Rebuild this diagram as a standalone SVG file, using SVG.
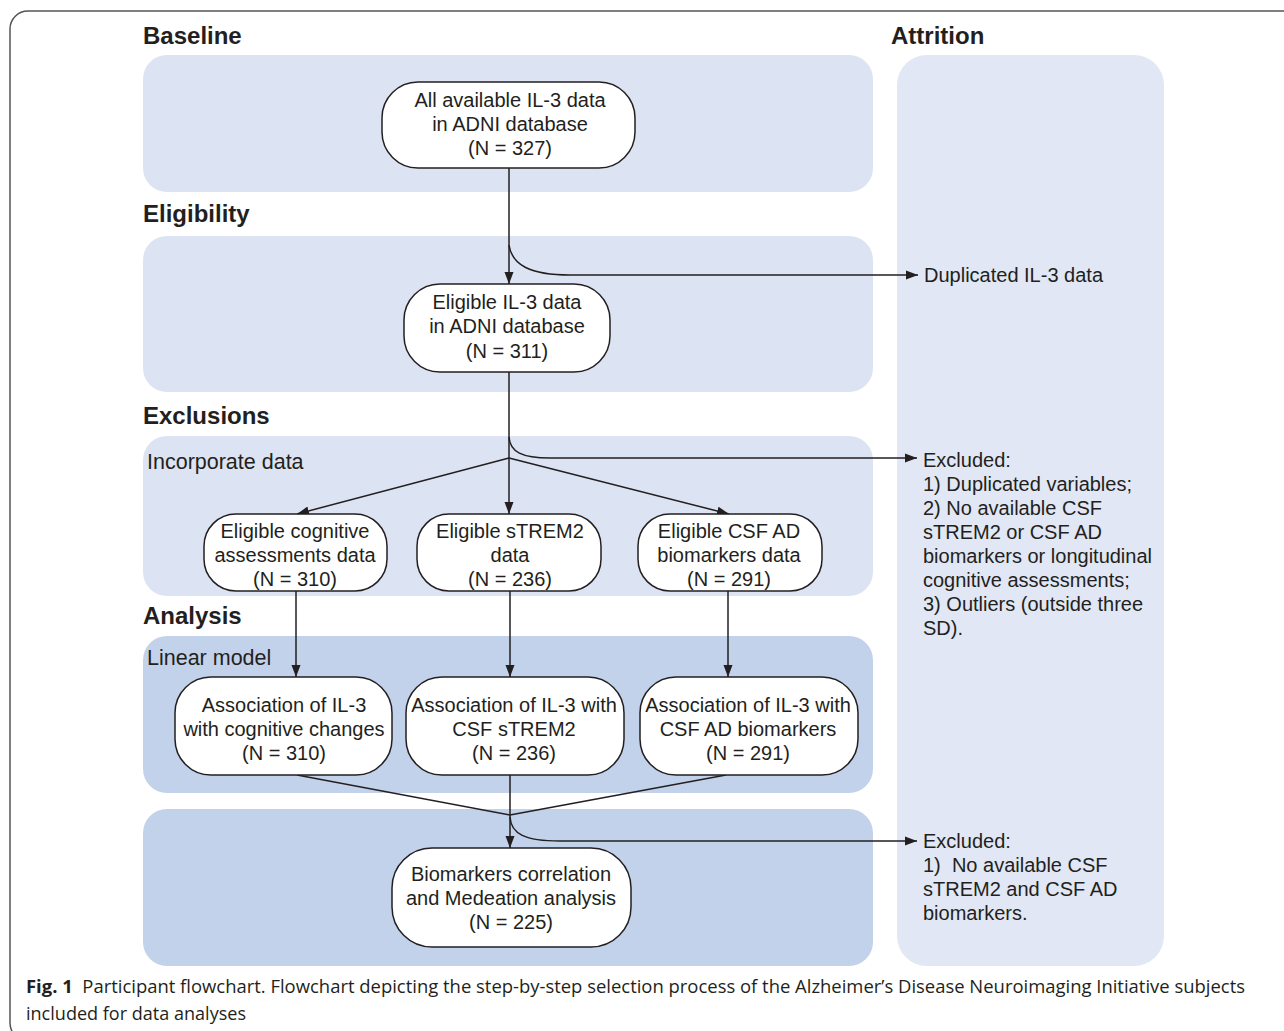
<svg xmlns="http://www.w3.org/2000/svg" width="1284" height="1031" viewBox="0 0 1284 1031">
<style>
.t{font-family:"Liberation Sans",Arial,sans-serif;fill:#231f20}
.n{font-size:20px;text-anchor:middle}
.h{font-size:24px;font-weight:bold}
.s{font-size:21.5px}
.a{font-size:20px}
.box{fill:#fff;stroke:#231f20;stroke-width:1.5}
.p1{fill:#dce3f2}
.p2{fill:#c3d2eb}
.p3{fill:#e1e7f4}
.c{fill:none;stroke:#231f20;stroke-width:1.5}
.cap{font-family:"Open Sans","Liberation Sans",sans-serif;font-size:18px;fill:#231f20}
</style>
<defs>
<marker id="ar" viewBox="0 0 12 10" refX="12" refY="5" markerWidth="12" markerHeight="10" markerUnits="userSpaceOnUse" orient="auto">
<path d="M0,0.5 L12,5 L0,9.5 z" fill="#231f20"/>
</marker>
</defs>
<rect x="0" y="0" width="1284" height="1031" fill="#fff"/>
<rect x="10" y="11" width="1300" height="1030" rx="18" fill="none" stroke="#555" stroke-width="1.5"/>

<g id="panels">
<rect class="p1" x="143" y="55" width="730" height="137" rx="24"/>
<rect class="p1" x="143" y="236" width="730" height="156" rx="24"/>
<rect class="p1" x="143" y="436" width="730" height="160" rx="24"/>
<rect class="p2" x="143" y="636" width="730" height="157" rx="24"/>
<rect class="p2" x="143" y="809" width="730" height="157" rx="24"/>
<rect class="p3" x="897" y="55" width="267" height="911" rx="30"/>
</g>

<g id="headings">
<text class="t h" x="143" y="44">Baseline</text>
<text class="t h" x="891" y="44">Attrition</text>
<text class="t h" x="143" y="222">Eligibility</text>
<text class="t h" x="143" y="424">Exclusions</text>
<text class="t h" x="143" y="624">Analysis</text>
<text class="t s" x="147" y="469">Incorporate data</text>
<text class="t s" x="147" y="665">Linear model</text>
</g>

<g id="connectors">
<line class="c" x1="509" y1="168" x2="509" y2="284" marker-end="url(#ar)"/>
<path class="c" d="M509,245 C512,265 530,275 570,275 L918,275" marker-end="url(#ar)"/>
<line class="c" x1="509" y1="372" x2="509" y2="514" marker-end="url(#ar)"/>
<path class="c" d="M509,437 C510,452 522,458 550,458 L917,458" marker-end="url(#ar)"/>
<line class="c" x1="509" y1="458" x2="297" y2="514" marker-end="url(#ar)"/>
<line class="c" x1="509" y1="458" x2="729" y2="514" marker-end="url(#ar)"/>
<line class="c" x1="296" y1="591" x2="296" y2="677" marker-end="url(#ar)"/>
<line class="c" x1="510" y1="591" x2="510" y2="677" marker-end="url(#ar)"/>
<line class="c" x1="728" y1="591" x2="728" y2="677" marker-end="url(#ar)"/>
<line class="c" x1="297" y1="775" x2="510" y2="815"/>
<line class="c" x1="726" y1="775" x2="510" y2="815"/>
<line class="c" x1="510" y1="775" x2="510" y2="848" marker-end="url(#ar)"/>
<path class="c" d="M510,817 C511,834 525,841 560,841 L917,841" marker-end="url(#ar)"/>
</g>

<g id="n1">
<rect class="box" x="382" y="82" width="253" height="86" rx="36"/>
<text class="t n" x="510" y="107">All available IL-3 data</text>
<text class="t n" x="510" y="131">in ADNI database</text>
<text class="t n" x="510" y="155">(N = 327)</text>
</g>
<g id="n2">
<rect class="box" x="404" y="284" width="206" height="88" rx="36"/>
<text class="t n" x="507" y="309">Eligible IL-3 data</text>
<text class="t n" x="507" y="333">in ADNI database</text>
<text class="t n" x="507" y="358">(N = 311)</text>
</g>
<g id="n3">
<rect class="box" x="204" y="514" width="183" height="77" rx="32"/>
<text class="t n" x="295" y="538">Eligible cognitive</text>
<text class="t n" x="295" y="562">assessments data</text>
<text class="t n" x="295" y="586">(N = 310)</text>
</g>
<g id="n4">
<rect class="box" x="417" y="514" width="184" height="77" rx="32"/>
<text class="t n" x="510" y="538">Eligible sTREM2</text>
<text class="t n" x="510" y="562">data</text>
<text class="t n" x="510" y="586">(N = 236)</text>
</g>
<g id="n5">
<rect class="box" x="638" y="514" width="184" height="77" rx="32"/>
<text class="t n" x="729" y="538">Eligible CSF AD</text>
<text class="t n" x="729" y="562">biomarkers data</text>
<text class="t n" x="729" y="586">(N = 291)</text>
</g>
<g id="n6">
<rect class="box" x="175" y="677" width="217" height="98" rx="36"/>
<text class="t n" x="284" y="712">Association of IL-3</text>
<text class="t n" x="284" y="736">with cognitive changes</text>
<text class="t n" x="284" y="760">(N = 310)</text>
</g>
<g id="n7">
<rect class="box" x="406" y="677" width="218" height="98" rx="36"/>
<text class="t n" x="514" y="712">Association of IL-3 with</text>
<text class="t n" x="514" y="736">CSF sTREM2</text>
<text class="t n" x="514" y="760">(N = 236)</text>
</g>
<g id="n8">
<rect class="box" x="640" y="677" width="218" height="98" rx="36"/>
<text class="t n" x="748" y="712">Association of IL-3 with</text>
<text class="t n" x="748" y="736">CSF AD biomarkers</text>
<text class="t n" x="748" y="760">(N = 291)</text>
</g>
<g id="n9">
<rect class="box" x="392" y="848" width="239" height="99" rx="40"/>
<text class="t n" x="511" y="881">Biomarkers correlation</text>
<text class="t n" x="511" y="905">and Medeation analysis</text>
<text class="t n" x="511" y="929">(N = 225)</text>
</g>

<g id="attrition">
<text class="t a" x="924" y="282">Duplicated IL-3 data</text>
<text class="t a" x="923" y="467">Excluded:</text>
<text class="t a" x="923" y="491">1) Duplicated variables;</text>
<text class="t a" x="923" y="515">2) No available CSF</text>
<text class="t a" x="923" y="539">sTREM2 or CSF AD</text>
<text class="t a" x="923" y="563">biomarkers or longitudinal</text>
<text class="t a" x="923" y="587">cognitive assessments;</text>
<text class="t a" x="923" y="611">3) Outliers (outside three</text>
<text class="t a" x="923" y="635">SD).</text>
<text class="t a" x="923" y="848">Excluded:</text>
<text class="t a" x="923" y="872">1)&#160; No available CSF</text>
<text class="t a" x="923" y="896">sTREM2 and CSF AD</text>
<text class="t a" x="923" y="920">biomarkers.</text>
</g>

<g id="caption">
<text class="cap" x="26" y="993" textLength="1219" lengthAdjust="spacingAndGlyphs"><tspan font-weight="bold">Fig. 1</tspan>&#160; Participant flowchart. Flowchart depicting the step-by-step selection process of the Alzheimer’s Disease Neuroimaging Initiative subjects</text>
<text class="cap" x="26" y="1020" textLength="220" lengthAdjust="spacingAndGlyphs">included for data analyses</text>
</g>
</svg>
